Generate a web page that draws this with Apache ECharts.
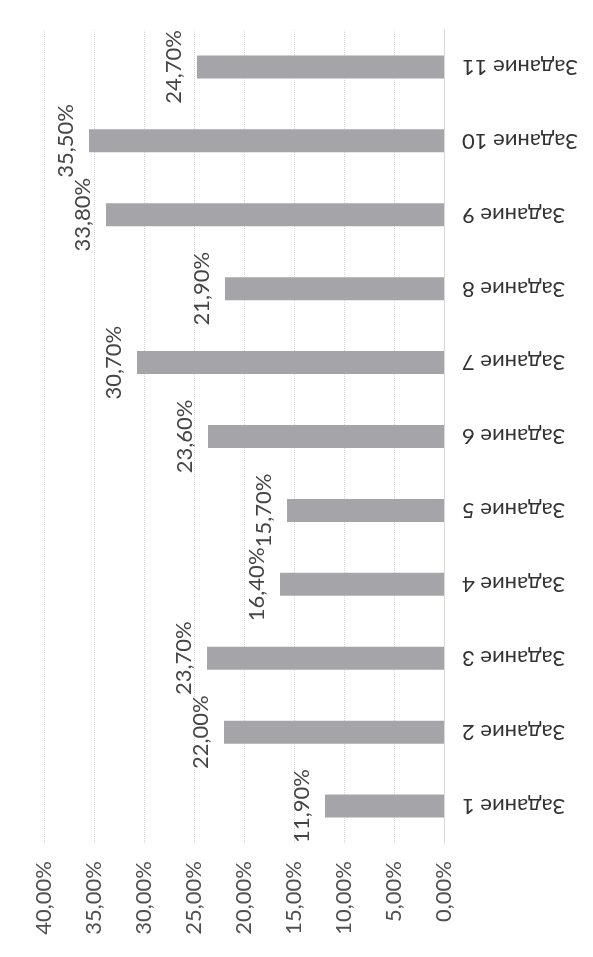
<!DOCTYPE html>
<html>
<head>
<meta charset="utf-8">
<script src="https://cdn.jsdelivr.net/npm/echarts@6/dist/echarts.min.js"></script>
<style>
html,body{margin:0;padding:0;background:#fff;}
#chart{width:593px;height:957px;}
</style>
</head>
<body>
<div id="chart"></div>
<script>
const categories = ['Задание 1','Задание 2','Задание 3','Задание 4','Задание 5','Задание 6','Задание 7','Задание 8','Задание 9','Задание 10','Задание 11'];
const values = [11.9, 22.0, 23.7, 16.4, 15.7, 23.6, 30.7, 21.9, 33.8, 35.5, 24.7];
const axisMin = 0;
const axisMax = 40;
const axisStep = 5;

function fmt(v){ return v.toFixed(2).replace('.', ',') + '%'; }

const chart = echarts.init(document.getElementById('chart'), null, {renderer:'canvas'});
chart.setOption({
  backgroundColor:'#ffffff',
  animation:false,
  textStyle:{fontFamily:'Lato'},
  grid:{left:44, right:149, top:30, bottom:114, containLabel:false},
  xAxis:{
    type:'value', inverse:true, min:axisMin, max:axisMax, interval:axisStep,
    axisLine:{show:false}, axisTick:{show:false},
    splitLine:{show:true, lineStyle:{color:'#d8d8d8', type:'dotted', width:1}},
    axisLabel:{rotate:90, margin:18, fontSize:22, color:'#505050', fontFamily:'Lato',
      formatter:function(v){ return fmt(v); }}
  },
  yAxis:{
    type:'category', position:'right', data:categories,
    axisLine:{show:true, lineStyle:{color:'#d0d0d0', type:'dotted'}},
    axisTick:{show:false},
    axisLabel:{rotate:180, margin:18, fontSize:22, color:'#333333', fontFamily:'Lato'}
  },
  series:[{
    type:'bar', data:values, barWidth:23,
    itemStyle:{color:'#a5a5a9'},
    label:{show:true, position:'left', rotate:90, align:'center', verticalAlign:'bottom',
      distance:12, fontSize:22, color:'#454545', fontFamily:'Lato',
      formatter:function(p){ return fmt(p.value); }}
  }]
});
</script>
</body>
</html>
